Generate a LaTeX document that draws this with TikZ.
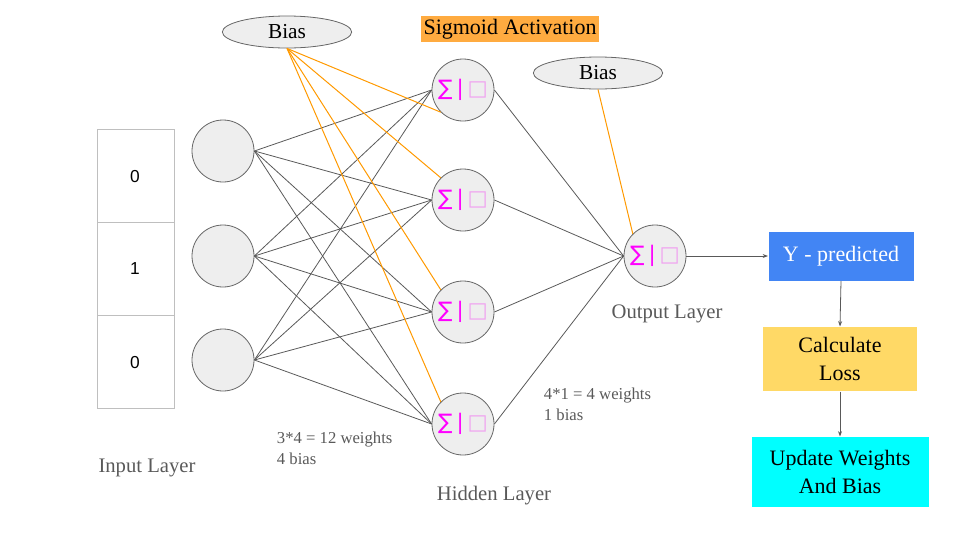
\documentclass[tikz,border=0pt]{standalone}
\usepackage{fontspec}
\setmainfont{Liberation Serif}
\newfontfamily\digitfont{Liberation Sans}
\newfontfamily\symfont{DejaVu Sans}
\usetikzlibrary{arrows.meta,shapes.geometric}
\definecolor{linegray}{HTML}{595959}
\definecolor{rimgray}{HTML}{666666}
\definecolor{nodefill}{HTML}{EEEEEE}
\definecolor{biasline}{HTML}{FF9900}
\definecolor{sigfill}{HTML}{FFAB40}
\definecolor{predblue}{HTML}{4285F4}
\definecolor{lossyellow}{HTML}{FFD966}
\definecolor{updcyan}{HTML}{00FFFF}
\definecolor{sigmag}{HTML}{FF00FF}
\definecolor{tofupink}{HTML}{F0A0F0}
\newcommand{\sigact}{{\symfont\color{sigmag}\fontsize{16}{18}\selectfont ∑\kern3pt|\kern3pt{\color{tofupink}□}}}
\begin{document}
\begin{tikzpicture}[x=0.75pt,y=-0.75pt,thick,
    in node/.style={circle,draw=rimgray,fill=nodefill,line width=0.6pt,minimum size=46.5pt,inner sep=0pt},
    sum node/.style={in node,font=\symfont},
    bias node/.style={ellipse,draw=rimgray,fill=nodefill,line width=0.6pt,minimum width=97pt,minimum height=24pt,inner sep=0pt,font=\fontsize{16}{18}\selectfont},
    layer label/.style={text=linegray,font=\fontsize{15.5}{18}\selectfont},
    count label/.style={text=linegray,font=\fontsize{12.5}{15.5}\selectfont,align=left,anchor=west},
    step box/.style={minimum width=#1,inner sep=0pt,align=center,font=\fontsize{16.5}{20.5}\selectfont},
    flow/.style={draw=linegray,line width=0.6pt,-{Stealth[length=4pt,width=3pt]}}]
    \useasboundingbox (0,0) rectangle (960,540);

    % input vector
    \draw[draw=black!25,line width=0.6pt] (97,129) rectangle (174,408)
        (97,222) -- (174,222) (97,315) -- (174,315);
    \node[font=\digitfont\fontsize{13}{15}\selectfont] at (135,177) (v1) {0};
    \node[font=\digitfont\fontsize{13}{15}\selectfont] at (135,269) (v2) {1};
    \node[font=\digitfont\fontsize{13}{15}\selectfont] at (135,363) (v3) {0};

    % layers
    \node[in node] at (223,151) (i1) {};
    \node[in node] at (223,256) (i2) {};
    \node[in node] at (223,360) (i3) {};
    \node[sum node] at (463,90) (h1) {\sigact};
    \node[sum node] at (463,200) (h2) {\sigact};
    \node[sum node] at (463,312) (h3) {\sigact};
    \node[sum node] at (463,424) (h4) {\sigact};
    \node[sum node] at (655,256) (o) {\sigact};

    \node[bias node] at (287,32) (b1) {Bias};
    \node[bias node] at (598,73) (b2) {Bias};
    \node[fill=sigfill,inner sep=2pt,font=\fontsize{16.5}{19}\selectfont] at (510,29) (sig) {Sigmoid Activation};

    % pipeline
    \node[step box=108.75pt,minimum height=36.75pt,fill=predblue,text=white] at (841,256) (y) {Y - predicted};
    \node[step box=115.5pt,minimum height=48pt,fill=lossyellow] at (840,359) (loss) {Calculate\\Loss};
    \node[step box=132.75pt,minimum height=52.5pt,fill=updcyan] at (840,472) (upd) {Update Weights\\And Bias};

    % labels
    \node[layer label] at (147,468) (lin) {Input Layer};
    \node[layer label] at (494,496) (lhid) {Hidden Layer};
    \node[layer label] at (667,314) (lout) {Output Layer};
    \node[count label] at (272,448) (c1) {3*4 = 12 weights\\4 bias};
    \node[count label] at (539,404) (c2) {4*1 = 4 weights\\1 bias};

    \path[draw=linegray,line width=0.6pt]
        (i1.east) edge (h1.west) (i1.east) edge (h2.west) (i1.east) edge (h3.west) (i1.east) edge (h4.west)
        (i2.east) edge (h1.west) (i2.east) edge (h2.west) (i2.east) edge (h3.west) (i2.east) edge (h4.west)
        (i3.east) edge (h1.west) (i3.east) edge (h2.west) (i3.east) edge (h3.west) (i3.east) edge (h4.west)
        (h1.east) edge (o.west) (h2.east) edge (o.west) (h3.east) edge (o.west) (h4.east) edge (o.west)
        ;
    \path[draw=biasline,line width=0.75pt]
        (b1.south) edge (h1.south west)
        (b1.south) edge (h2.north west)
        (b1.south) edge (h3.north west)
        (b1.south) edge (h4.north west)
        (b2.south) edge (o.north west)
        ;
    \draw[flow] (o.east) -- (y.west);
    \draw[flow] (y.south) -- (loss.north);
    \draw[flow] (loss.south) -- (upd.north);
\end{tikzpicture}
\end{document}
